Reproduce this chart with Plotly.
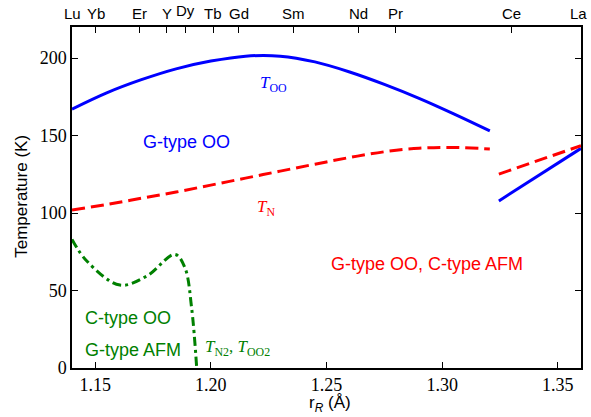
import plotly.graph_objects as go

# T_OO (blue, solid)
too_r = [1.14, 1.155, 1.17, 1.185, 1.20, 1.215, 1.23, 1.245, 1.26, 1.275, 1.29, 1.305, 1.3206]
too_T = [167, 177.5, 186, 193, 198, 201.2, 201.2, 197.5, 191, 183, 174, 164, 153]
too2_r = [1.3245, 1.36]
too2_T = [107.8, 141.7]

# T_N (red, dashed)
tn_r = [1.14, 1.155, 1.17, 1.185, 1.20, 1.215, 1.23, 1.245, 1.26, 1.275, 1.29, 1.305, 1.3206]
tn_T = [102, 105.5, 109.5, 113.5, 118, 122.5, 127, 131.5, 135.8, 139.5, 141.8, 142.3, 141.3]
tn2_r = [1.3245, 1.36]
tn2_T = [125.1, 143.4]

# T_N2, T_OO2 (green, dash-dot)
t2_r = [1.14, 1.1464, 1.1607, 1.1723, 1.1845, 1.1888, 1.1917, 1.1939]
t2_T = [83, 69, 53.5, 59.3, 73.3, 64.7, 38.8, 0]

# top axis: rare-earth ions
ion_labels = ["Lu", "Yb", "Er", "Y", "Dy", "Tb", "Gd", "Sm", "Nd", "Pr", "Ce", "La"]
ion_r = [1.14, 1.1502, 1.1691, 1.1809, 1.1891, 1.2011, 1.2120, 1.2359, 1.2640, 1.2800, 1.3300, 1.36]

x_ticks = [1.15, 1.20, 1.25, 1.30, 1.35]
x_ticktext = ["1.15", "1.20", "1.25", "1.30", "1.35"]
y_ticks = [0, 50, 100, 150, 200]

BLUE = "#0000ff"
RED = "#ff0000"
GREEN = "#008000"

fig = go.Figure()
fig.add_trace(go.Scatter(x=too_r, y=too_T, mode="lines",
                         line=dict(color=BLUE, width=3, shape="spline")))
fig.add_trace(go.Scatter(x=too2_r, y=too2_T, mode="lines",
                         line=dict(color=BLUE, width=3)))
fig.add_trace(go.Scatter(x=tn_r, y=tn_T, mode="lines",
                         line=dict(color=RED, width=3, shape="spline", dash="13px,6px")))
fig.add_trace(go.Scatter(x=tn2_r, y=tn2_T, mode="lines",
                         line=dict(color=RED, width=3, dash="13px,6px")))
fig.add_trace(go.Scatter(x=t2_r, y=t2_T, mode="lines",
                         line=dict(color=GREEN, width=3, shape="spline", dash="9px,4px,3px,4px")))
# invisible trace to anchor the top axis
fig.add_trace(go.Scatter(x=[ion_r[0]], y=[None], xaxis="x2", mode="markers",
                         marker=dict(opacity=0)))

sans = "Liberation Sans"
serif = "Liberation Serif"
ann = []
for lab, r in zip(ion_labels, ion_r):
    ann.append(dict(x=r, xref="x", y=1, yref="paper", text=lab, showarrow=False,
                    xanchor=("right" if lab == "La" else "center"), yanchor="bottom",
                    xshift=(8 if lab == "La" else 0),
                    yshift=(6 if lab == "Dy" else 3),
                    font=dict(family=sans, size=15, color="black")))

ann += [
    dict(x=1.2269, y=183.5, text="<i>T</i><sub>OO</sub>", font=dict(family=serif, size=17, color=BLUE)),
    dict(x=1.1897, y=145.5, text="G-type OO", font=dict(family=sans, size=18, color=BLUE)),
    dict(x=1.2238, y=103.5, text="<i>T</i><sub>N</sub>", font=dict(family=serif, size=17, color=RED)),
    dict(x=1.2933, y=66.9, text="G-type OO, C-type AFM", font=dict(family=sans, size=18, color=RED)),
    dict(x=1.1642, y=32.3, text="C-type OO", font=dict(family=sans, size=18, color=GREEN)),
    dict(x=1.1664, y=11.9, text="G-type AFM", font=dict(family=sans, size=18, color=GREEN)),
    dict(x=1.1966, y=12.9, text="<i>T</i><sub>N2</sub>, <i>T</i><sub>OO2</sub>", xanchor="left",
         font=dict(family=serif, size=17, color=GREEN)),
    # axis titles
    dict(x=0.507, xref="paper", y=-0.105, yref="paper", text="r<sub><i>R</i></sub> (Å)",
         xanchor="center", yanchor="middle", font=dict(family=sans, size=17, color="black")),
    dict(x=-0.099, xref="paper", y=0.504, yref="paper", text="Temperature (K)", textangle=-90,
         xanchor="center", yanchor="middle", font=dict(family=sans, size=17, color="black")),
]
for a in ann:
    a.setdefault("xref", "x")
    a.setdefault("yref", "y")
    a.setdefault("showarrow", False)

fig.update_layout(
    width=591, height=417,
    margin=dict(l=72, r=10, t=27, b=49),
    paper_bgcolor="white", plot_bgcolor="white",
    showlegend=False,
    annotations=ann,
    xaxis=dict(range=[1.14, 1.36], tickvals=x_ticks, ticktext=x_ticktext,
               ticks="inside", ticklen=6, tickwidth=1, tickcolor="black",
               showline=True, linecolor="black", linewidth=1.5, mirror=True,
               showgrid=False, zeroline=False, automargin=False,
               tickfont=dict(family=serif, size=18, color="black")),
    xaxis2=dict(range=[1.14, 1.36], overlaying="x", side="top", anchor="y",
                tickvals=ion_r, ticks="inside", ticklen=6, tickwidth=1, tickcolor="black",
                showticklabels=False, showgrid=False, zeroline=False, showline=False,
                automargin=False),
    yaxis=dict(range=[0, 220], tickvals=y_ticks,
               ticks="inside", ticklen=6, tickwidth=1, tickcolor="black",
               showline=True, linecolor="black", linewidth=1.5, mirror="ticks",
               showgrid=False, zeroline=False, automargin=False,
               tickfont=dict(family=serif, size=18, color="black")),
)

fig.write_html("out.html",
               config={"displayModeBar": False},
               post_script="document.body.style.margin='0px';document.body.style.overflow='hidden';")
